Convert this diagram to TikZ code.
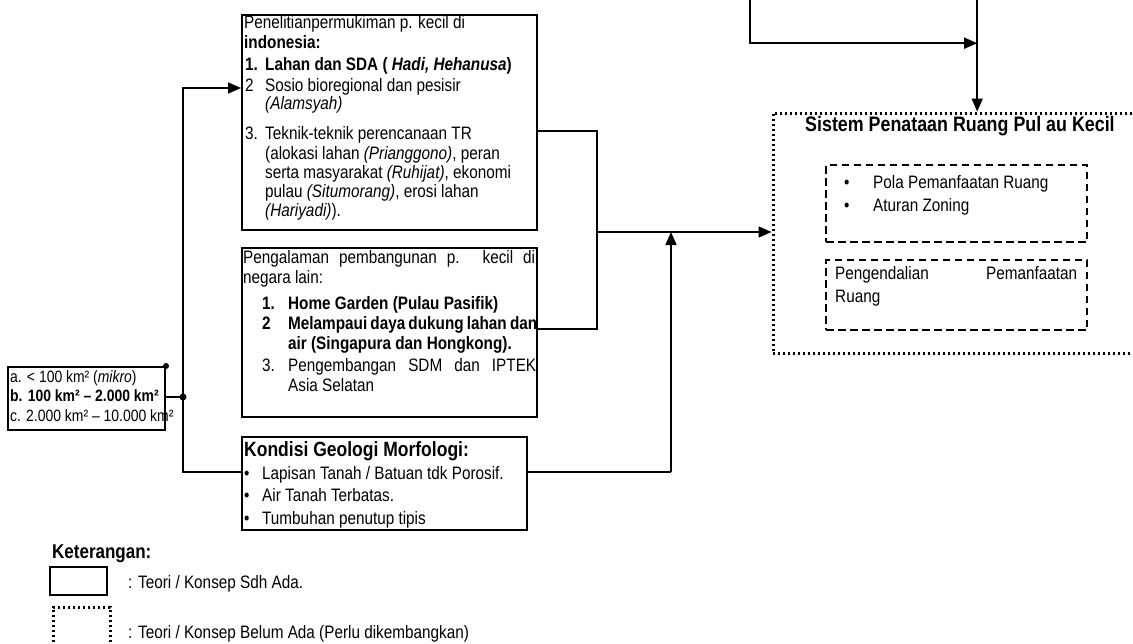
\documentclass[tikz,border=0pt]{standalone}
\usepackage{fontspec}
\setmainfont{Liberation Sans}[FakeStretch=0.85]
\usetikzlibrary{arrows.meta,fit}

\begin{document}
\begin{tikzpicture}[x=1pt,y=-1pt,
  box/.style={draw, line width=2pt, inner sep=0pt},
  dotbox/.style={draw, line width=3pt, dash pattern=on 2.4pt off 2.6pt, inner sep=0pt},
  dashbox/.style={draw, line width=2pt, dash pattern=on 7.5pt off 4.5pt, inner sep=0pt},
  link/.style={line width=1.7pt},
  tip/.style={-{Triangle[length=13pt,width=11pt]}},
  txt/.style={anchor=base west, inner sep=0pt, font=\fontsize{18}{21}\selectfont},
  btxt/.style={txt, font=\fontsize{18}{21}\selectfont\bfseries},
  stxt/.style={anchor=base west, inner sep=0pt, font=\fontsize{16.4}{19}\selectfont},
  head/.style={anchor=base west, inner sep=0pt, font=\fontsize{21}{24}\selectfont\bfseries},
  junction/.style={circle, fill, inner sep=0pt, minimum size=7pt}
]
\useasboundingbox (0,0) rectangle (1133,643);

% ---------- boxes ----------
\node[box, fit={(242,15) (537,230)}] (riset) {};
\node[box, fit={(242,248) (537,417)}] (alam) {};
\node[box, fit={(242,437) (527,530)}] (geo) {};
\node[box, fit={(8,367) (165,430)}] (luas) {};
\node[fit={(750,-20) (977,43)}, inner sep=0pt] (atas) {};
\node[dotbox, fit={(773,113) (1150,353)}] (sistem) {};
\node[dashbox, fit={(826,165) (1087,242)}] (pola) {};
\node[dashbox, fit={(826,260) (1087,330)}] (kendali) {};

% ---------- helper coordinates for connector routes ----------
\coordinate (jA) at (183,397);
\coordinate (yA) at (0,88);
\coordinate (yB) at (0,472);
\coordinate (jR) at (597,131);
\coordinate (yM) at (0,232);
\coordinate (yL) at (0,329);
\coordinate (xU) at (671,0);

% ---------- text: research box ----------
\node[txt] (r1) at (244,28) {Penelitianpermukiman p. kecil di};
\node[btxt] (r2) at (244,48) {indonesia:};
\node[btxt] (r3n) at (245,70) {1.};
\node[btxt] (r3) at (265,70) {Lahan dan SDA ( \textit{Hadi, Hehanusa})};
\node[txt] (r4n) at (245,91) {2};
\node[txt] (r4) at (265,91) {Sosio bioregional dan pesisir};
\node[txt] (r5) at (265,109) {\textit{(Alamsyah)}};
\node[txt] (r6n) at (245,139) {3.};
\node[txt] (r6) at (265,139) {Teknik-teknik perencanaan TR};
\node[txt] (r7) at (265,159) {(alokasi lahan \textit{(Prianggono)}, peran};
\node[txt] (r8) at (265,178) {serta masyarakat \textit{(Ruhijat)}, ekonomi};
\node[txt] (r9) at (265,197) {pulau \textit{(Situmorang)}, erosi lahan};
\node[txt] (r10) at (265,216) {\textit{(Hariyadi)}).};

% ---------- text: experience box ----------
\node[txt] (a1) at (243,263) {\makebox[292pt][s]{Pengalaman pembangunan p. kecil di}};
\node[txt] (a2) at (243,283) {negara lain:};
\node[btxt] (a3n) at (262,309) {1.};
\node[btxt] (a3) at (288,309) {Home Garden (Pulau Pasifik)};
\node[btxt] (a4n) at (262,329) {2};
\node[btxt] (a4) at (288,329) {\makebox[249pt][s]{Melampaui daya dukung lahan dan}};
\node[btxt] (a5) at (288,349) {air (Singapura dan Hongkong).};
\node[txt] (a6n) at (262,371) {3.};
\node[txt] (a6) at (288,371) {\makebox[248pt][s]{Pengembangan SDM dan IPTEK}};
\node[txt] (a7) at (288,391) {Asia Selatan};

% ---------- text: geology box ----------
\node[head, font=\fontsize{20.6}{24}\selectfont\bfseries] (g1) at (244,456) {Kondisi Geologi Morfologi:};
\node[txt] (g2b) at (244,479) {•};
\node[txt] (g2) at (262,479) {Lapisan Tanah / Batuan tdk Porosif.};
\node[txt] (g3b) at (244,501) {•};
\node[txt] (g3) at (262,501) {Air Tanah Terbatas.};
\node[txt] (g4b) at (244,524) {•};
\node[txt] (g4) at (262,524) {Tumbuhan penutup tipis};

% ---------- text: island size box ----------
\node[stxt] (l1) at (10,382) {a. < 100 km² (\textit{mikro})};
\node[stxt, font=\fontsize{16.4}{19}\selectfont\bfseries] (l2) at (10,401) {b. 100 km² – 2.000 km²};
\node[stxt] (l3) at (10,421) {c. 2.000 km² – 10.000 km²};

% ---------- text: spatial planning system ----------
\node[head] (s1) at (805,131) {Sistem Penataan Ruang Pul au Kecil};
\node[txt] (s2b) at (844,188) {•};
\node[txt] (s2) at (873,188) {Pola Pemanfaatan Ruang};
\node[txt] (s3b) at (844,211) {•};
\node[txt] (s3) at (873,211) {Aturan Zoning};
\node[txt] (s4) at (835,279) {\makebox[242pt][s]{Pengendalian Pemanfaatan}};
\node[txt] (s5) at (835,302) {Ruang};

% ---------- connectors ----------
\draw[link] (luas.east |- jA) -- (jA);
\node[junction] (dA) at (jA) {};
\node[junction, minimum size=6pt] (dB) at (luas.north east) {};
\draw[link, tip] (jA) -- (jA |- yA) -- (riset.west |- yA);
\draw[link] (jA) -- (jA |- yB) -- (geo.west |- yB);

\draw[link] (riset.east |- jR) -- (jR) -- (jR |- yL) -- (alam.east |- yL);
\draw[link, tip] (jR |- yM) -- (sistem.west |- yM);
\draw[link] (geo.east |- yB) -- (xU |- yB);
\draw[link, tip] (xU |- yB) -- (xU |- yM);

\draw[link, tip] (atas.north west) -- (atas.south west) -- (atas.south east);
\draw[link, tip] (atas.north east) -- (sistem.north -| atas.east);

% ---------- legend ----------
\node[head, font=\fontsize{20}{23}\selectfont\bfseries] (k0) at (52,558) {Keterangan:};
\node[box, fit={(50,567) (107,595)}] (kA) {};
\node[txt] (kAt) at (128,588) {: Teori / Konsep Sdh Ada.};
\node[dotbox, fit={(53,607) (110,645)}] (kB) {};
\node[txt] (kBt) at (128,638) {: Teori / Konsep Belum Ada (Perlu dikembangkan)};
\end{tikzpicture}
\end{document}
